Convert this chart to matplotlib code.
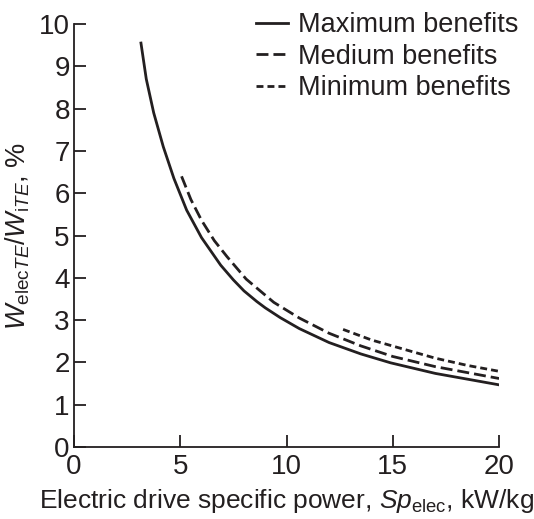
import matplotlib.pyplot as plt

plt.rcParams['font.family'] = ['Liberation Sans', 'DejaVu Sans']
plt.rcParams['mathtext.fontset'] = 'custom'
plt.rcParams['mathtext.rm'] = 'Liberation Sans'
plt.rcParams['mathtext.it'] = 'Liberation Sans:italic'

INK = '#231f20'

# electric drive specific power, kW/kg  ->  mass share W_elecTE / W_iTE, %
sp_max = [3.15, 3.4, 3.75, 4.2, 4.7, 5.3, 6.0, 6.9, 7.5, 8.0, 8.6, 9.0, 9.7, 10.6, 12.0, 13.5, 14.9, 17.0, 20.0]
w_max = [9.55, 8.7, 7.9, 7.1, 6.35, 5.6, 4.95, 4.3, 3.95, 3.69, 3.44, 3.29, 3.06, 2.8, 2.47, 2.2, 1.99, 1.74, 1.47]

sp_med = [5.06, 5.5, 6.0, 6.6, 7.2, 8.1, 9.4, 10.6, 12.0, 13.5, 15.0, 17.0, 20.0]
w_med = [6.4, 5.85, 5.36, 4.88, 4.5, 3.97, 3.42, 3.05, 2.69, 2.39, 2.14, 1.9, 1.62]

sp_min = [12.66, 14.0, 15.6, 17.0, 18.5, 20.0]
w_min = [2.78, 2.53, 2.3, 2.1, 1.93, 1.79]

fig = plt.figure(figsize=(5.34, 5.19), dpi=100)
ax = fig.add_axes([0.1386, 0.1387, 0.796, 0.815])

ax.plot(sp_max, w_max, color=INK, lw=2.0, ls='-', label='Maximum benefits')
ax.plot(sp_med, w_med, color=INK, lw=2.0, ls=(0, (4.3, 1.8)), label='Medium benefits')
ax.plot(sp_min, w_min, color=INK, lw=2.0, ls=(0, (2.5, 1.45)), label='Minimum benefits')

ax.set_xlim(0, 20)
ax.set_ylim(0, 10)
ax.set_xticks([0, 5, 10, 15, 20])
ax.set_yticks(range(0, 11))
ax.spines['top'].set_visible(False)
ax.spines['right'].set_visible(False)
for s in ('left', 'bottom'):
    ax.spines[s].set_linewidth(1.3)
    ax.spines[s].set_color(INK)
ax.tick_params(direction='in', length=8.5, width=1.3, color=INK,
               labelsize=20, labelcolor=INK)
ax.tick_params(axis='x', pad=5)
ax.tick_params(axis='y', pad=3)

ax.set_xlabel(r'Electric drive specific power, $Sp_{\mathrm{elec}}$, kW/kg',
              fontsize=19, color=INK, labelpad=5)
ax.set_ylabel(r'$W_{\mathrm{elec}TE}/W_{\mathrm{i}TE}$, %',
              fontsize=19.5, color=INK, labelpad=5)

leg = ax.legend(loc='upper right', bbox_to_anchor=(518 / 534, 0.976),
                bbox_transform=fig.transFigure, frameon=False,
                fontsize=19.5, handlelength=1.18, handletextpad=0.37,
                labelspacing=0.2, borderpad=0, borderaxespad=0)
for t in leg.get_texts():
    t.set_color(INK)

fig.savefig('out.png', dpi=100)
